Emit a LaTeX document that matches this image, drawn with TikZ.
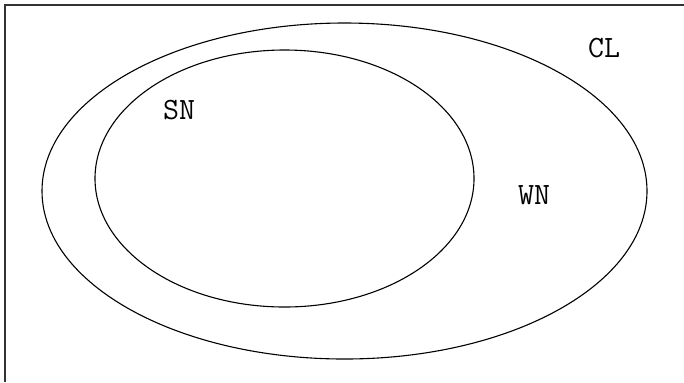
\documentclass[tikz,border=0pt]{standalone}
\begin{document}
\begin{tikzpicture}[x=0.5pt,y=-0.5pt,
  ring/.style={draw=black,line width=0.55pt},
  lbl/.style={font=\fontsize{15.5}{18}\selectfont\ttfamily,inner sep=0pt,anchor=center}]
\useasboundingbox (0,0) rectangle (684,382);
\draw[line width=0.7pt,black!80] (5,382) -- (5,5) -- (684,5);
\draw[ring] (344.5,191) ellipse [x radius=302.5, y radius=168];
\draw[ring] (284.5,178.5) ellipse [x radius=189.5, y radius=128.5];
\node[lbl] (sn) at (179,110) {SN};
\node[lbl] (wn) at (534,195) {WN};
\node[lbl] (cl) at (604,48) {CL};
\end{tikzpicture}
\end{document}
